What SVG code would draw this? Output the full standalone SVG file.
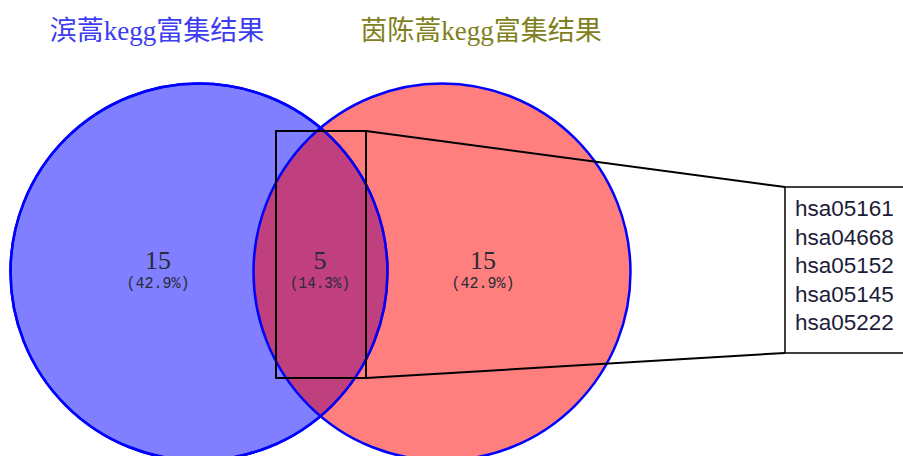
<svg xmlns="http://www.w3.org/2000/svg" width="903" height="456" viewBox="0 0 903 456">
<style>
.title{font-family:"Liberation Serif","Noto Sans CJK SC",serif;font-size:27px;text-anchor:middle}
.num{font-family:"Liberation Serif",serif;font-size:26px;fill:#2a2a35;text-anchor:middle}
.pct{font-family:"Liberation Mono",monospace;font-size:16px;fill:#2a2a35;text-anchor:middle}
.circle{stroke:#0000ff;stroke-width:2.5;fill-opacity:0.5}
.line{stroke:#000;stroke-width:2;fill:none}
.lab{font-family:"Liberation Sans",Arial,sans-serif;font-size:22.5px;fill:#1c1c38}
</style>
<rect width="903" height="456" fill="#fff"/>
<text class="title" x="157" y="40" fill="#3c3cf0">滨蒿kegg富集结果</text>
<text class="title" x="481" y="40" fill="#7f8020">茵陈蒿kegg富集结果</text>
<g id="setA"><circle class="circle" cx="199" cy="272" r="188.5" fill="#0000ff"/></g>
<g id="setB"><circle class="circle" cx="442" cy="272" r="188.5" fill="#ff0000"/></g>
<circle cx="199" cy="272" r="188.5" fill="none" stroke="#0000ff" stroke-width="2.5"/>
<g id="labels">
<text class="num" x="158" y="269">15</text>
<text class="pct" x="158" y="288" textLength="63" lengthAdjust="spacingAndGlyphs">(42.9%)</text>
<text class="num" x="320" y="269">5</text>
<text class="pct" x="320" y="288" textLength="60" lengthAdjust="spacingAndGlyphs">(14.3%)</text>
<text class="num" x="483" y="269">15</text>
<text class="pct" x="483" y="288" textLength="63" lengthAdjust="spacingAndGlyphs">(42.9%)</text>
</g>
<g id="connectors">
<rect class="line" x="276" y="131" width="90" height="247"/>
<line class="line" x1="366" y1="131" x2="785" y2="187"/>
<line class="line" x1="366" y1="378" x2="785" y2="353"/>
</g>
<g id="detail">
<rect x="785" y="187" width="125" height="166" fill="#fff" stroke="#000" stroke-width="1.5"/>
<text class="lab" x="795" y="216">hsa05161</text>
<text class="lab" x="795" y="244.5">hsa04668</text>
<text class="lab" x="795" y="273">hsa05152</text>
<text class="lab" x="795" y="301.5">hsa05145</text>
<text class="lab" x="795" y="330">hsa05222</text>
</g>
</svg>
